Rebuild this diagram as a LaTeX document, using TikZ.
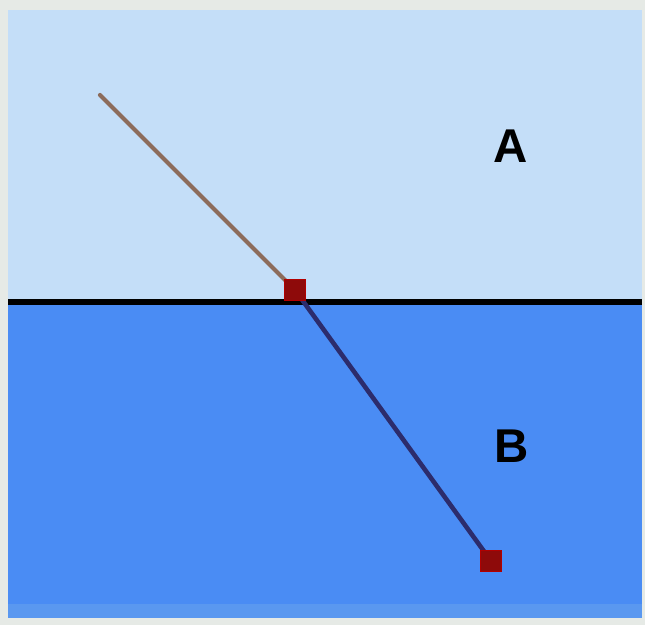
\documentclass[tikz,border=0pt]{standalone}
\usepackage{fontspec}
\setsansfont{Liberation Sans}
\definecolor{frame}{HTML}{E6EAE6}
\definecolor{mediumA}{HTML}{C4DEF8}
\definecolor{mediumB}{HTML}{4A8CF4}
\definecolor{stripB}{HTML}{5A98F0}
\definecolor{rayin}{HTML}{8C6C5C}
\definecolor{rayout}{HTML}{2C2C6C}
\definecolor{dotred}{HTML}{8E0A0A}

\begin{document}
\begin{tikzpicture}[x=0.02cm, y=-0.02cm,
    dot/.style={fill=dotred, draw=red!70!black, line width=0.6pt, minimum size=0.42cm, inner sep=0pt},
    letter/.style={font=\sffamily\bfseries\fontsize{27}{27}\selectfont, text=black}]
    \useasboundingbox (0,0) rectangle (645,625);

    % Draw the two media
    \fill[frame] (0,0) rectangle (645,625);
    \fill[mediumA] (8,10) rectangle (642,300);
    \fill[mediumB] (8,302) rectangle (642,618);
    \fill[stripB] (8,604) rectangle (642,618);

    % Draw the boundary
    \draw[black, line width=3pt] (8,302) -- (642,302);

    % Points on the ray
    \coordinate (source) at (100,95);
    \node[dot] (hit) at (295,290) {};
    \node[dot] (exit) at (491,561) {};

    % Draw the ray
    \draw[rayin, line width=2.4pt, line cap=round] (source) -- (hit.center);
    \draw[rayout, line width=2.6pt] (hit.center) -- (exit.center);
    \node[dot] at (hit) {};
    \node[dot] at (exit) {};

    % Add labels
    \node[letter] (labelA) at (511,146) {A};
    \node[letter] (labelB) at (512,446) {B};
\end{tikzpicture}
\end{document}
